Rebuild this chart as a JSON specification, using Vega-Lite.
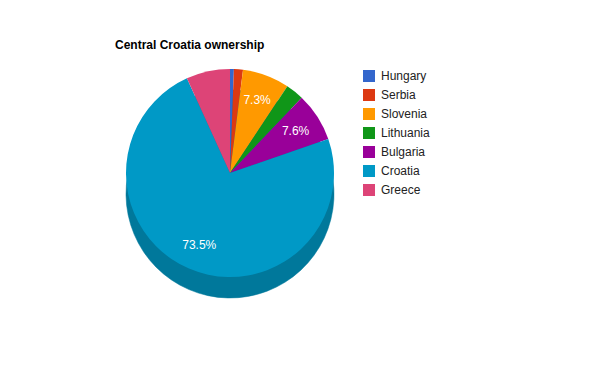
{
  "$schema": "https://vega.github.io/schema/vega-lite/v6.json",
  "width": 460,
  "height": 246,
  "autosize": {"type": "none"},
  "padding": {"left": 0, "top": 50, "right": 0, "bottom": 30},
  "background": "white",
  "config": {"view": {"stroke": null}},
  "title": {
    "text": "Central Croatia ownership",
    "anchor": "start",
    "frame": "group",
    "dx": 115,
    "offset": -11,
    "baseline": "alphabetic",
    "font": "Liberation Sans",
    "fontSize": 12,
    "fontWeight": "bold",
    "color": "#000000"
  },
  "data": {
    "values": [
      {"country": "Hungary", "share": 0.006, "rank": 1},
      {"country": "Serbia", "share": 0.014, "rank": 2},
      {"country": "Slovenia", "share": 0.073, "rank": 3},
      {"country": "Lithuania", "share": 0.028, "rank": 4},
      {"country": "Bulgaria", "share": 0.076, "rank": 5},
      {"country": "Croatia", "share": 0.735, "rank": 6},
      {"country": "Greece", "share": 0.068, "rank": 7}
    ]
  },
  "layer": [
    {
      "mark": {"type": "arc", "radius": 104, "yOffset": 21, "fill": "#00789b", "stroke": "#00789b", "strokeWidth": 0.5},
      "encoding": {
        "theta": {"field": "share", "type": "quantitative", "stack": true},
        "order": {"field": "rank", "type": "quantitative"}
      }
    },
    {
      "mark": {"type": "arc", "radius": 104, "strokeWidth": 0},
      "encoding": {
        "theta": {"field": "share", "type": "quantitative", "stack": true},
        "order": {"field": "rank", "type": "quantitative"},
        "color": {
          "field": "country",
          "type": "nominal",
          "scale": {
            "domain": ["Hungary", "Serbia", "Slovenia", "Lithuania", "Bulgaria", "Croatia", "Greece"],
            "range": ["#3366cc", "#dc3912", "#ff9900", "#109618", "#990099", "#0099c6", "#dd4477"]
          },
          "legend": {
            "orient": "none",
            "legendX": 363,
            "legendY": 20,
            "title": null,
            "symbolType": "square",
            "symbolSize": 144,
            "symbolStrokeWidth": 0,
            "labelFont": "Liberation Sans",
            "labelFontSize": 12,
            "labelColor": "#222222",
            "labelOffset": 6,
            "rowPadding": 7
          }
        }
      }
    },
    {
      "mark": {"type": "text", "radius": 78, "font": "Liberation Sans", "fontSize": 12, "fill": "#ffffff"},
      "encoding": {
        "theta": {"field": "share", "type": "quantitative", "stack": true},
        "order": {"field": "rank", "type": "quantitative"},
        "text": {
          "condition": {"test": "datum.share >= 0.07", "field": "share", "format": ".1%"},
          "value": ""
        }
      }
    }
  ]
}
